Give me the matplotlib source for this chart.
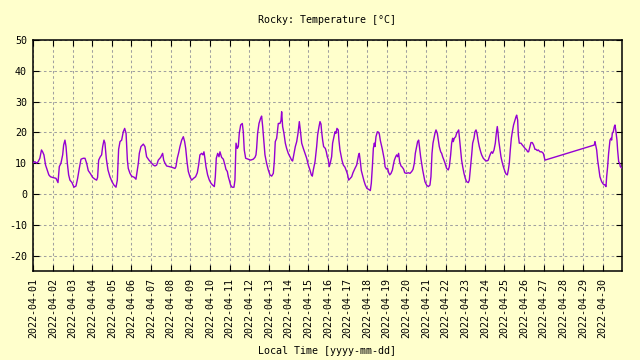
import matplotlib
matplotlib.use('Agg')
import matplotlib.pyplot as plt
import pandas as pd

plt.rcParams['axes.unicode_minus'] = False
plt.rcParams['font.family'] = ['DejaVu Sans Mono', 'DejaVu Sans']

title = 'Rocky: Temperature [°C]'
xlabel = 'Local Time [yyyy-mm-dd]'
start = '2022-04-01 00:00'

# hours since start, temperatures in °C
hours = [
    0, 2, 4, 6, 8, 10, 11.4, 13, 15, 17, 19, 21, 24.5, 27.7, 30.2,
    31.8, 33.8, 35.9, 37.1, 38.7, 40, 41.6, 43.2, 44.8, 47.3,
    49.7, 52.2, 54.2, 56.2, 58.3, 61.1, 63.2, 65.2, 67.2, 70.1,
    72.5, 75.4, 77.4, 78.6, 79.9, 81.9, 83.5, 84.8, 86.4, 87.6,
    89.2, 91.3, 93.7, 96.2, 98.6, 101.1, 102.7, 104.3, 106, 108,
    110, 111.7, 113.4, 115,
    116.1, 118.2, 120.2, 123.5, 125.5, 127.1, 128.4, 129.6, 131.6, 134.5,
    136.5, 138.5, 141.4, 144.7, 146.7, 148.7, 150.8, 152.8, 155.7, 158.1,
    159.4, 161, 163, 165.9, 169.1, 173.2, 174.4, 176, 177.7, 179.3,
    181.4, 183.4, 185, 186.3, 187.9, 189.5, 191.5, 193.6, 196, 198.4,
    200.5, 202.1, 203.7, 205.8, 207.4, 208.6, 209.8, 211.1, 213.1, 215.2,
    217.2, 219.2, 221.3, 222.5, 223.7, 225.4, 227, 228.2,
    230.2, 232.3, 234.3, 235.5, 237.2, 238.4, 239.6, 241.2, 242.9, 245.3,
    246.5, 247.8, 249.4, 250.6, 251.8, 253.5, 255.5, 256.7, 257.9, 259.6,
    262.8, 265.7, 268.9, 271, 272.2, 273, 274.2, 275.9, 277.9, 279.1,
    280.4, 282, 283.2, 285.2, 287.3, 289.3, 291.4, 293.4, 294.6, 295.8,
    297.5, 299.5, 301.5, 302.8, 303.6, 304.8, 306.4, 308.1, 309.7, 311.7,
    313.8, 315.8, 317, 318.7, 320.3, 322, 323.6, 325.2, 326.4, 328.1,
    330.1, 332.2, 334.2, 336.2, 338.2, 339.9, 341.1, 342.3, 344.4, 346.4,
    347.6, 349.3, 350.5,
    351.7, 352.5, 353.7, 354.9, 357, 358.2, 359.4, 360.5, 361.8, 363,
    364.7, 365.9, 367.6, 368.8, 370, 371.2, 372.8, 373.6, 374.9, 376.1,
    377.3, 379, 381, 383, 384.3, 385.5, 387.5, 389.2, 390.8, 393.2,
    395.3, 396.5, 397.7, 398.5, 399.8, 401, 402.7, 404.3, 405.9, 407.9,
    410, 412, 413.2, 414.5, 415.7, 416.9, 417.7, 418.9, 420.6, 421.8,
    423, 424.3, 425.5, 426.7, 428, 429.2, 430, 431.7, 433.2, 434.5,
    435.7, 437.3, 439, 440.1, 441.4, 443, 444.2, 445.4, 446.6, 447.8,
    449.5, 451.1, 452.8, 454, 456, 458.5, 460.5, 462.6, 464.2, 465.8,
    467.0, 468.6, 469.8, 471.1, 472.3, 473.5, 474.7, 476.0, 477.6, 478.8,
    480.8, 482.9, 484.9, 486.1, 487.4, 488.6, 489.8, 491.0, 492.3, 493.9,
    495.1, 496.3, 498, 499.2, 500.4, 502, 503.3, 505.3, 507.3, 508.6,
    510.2, 511.4, 512.6, 513.4, 514.7, 516.3, 517.5, 518.7, 520, 520.8,
    522.4, 523.6, 524.9, 526.5, 528.1, 529.7, 531.8, 533, 534.6, 535.9,
    537.1, 538.7, 539.9, 541.2, 542.4, 544, 545.2, 546.9, 548.1, 550.1,
    552.2, 554.2, 556.2, 557.5, 559.1, 560.3, 561.5, 563.2, 564.8, 566,
    567.2, 568, 568.9, 570.5, 571.7, 573, 574.6, 576.2, 577.8, 579.5,
    580.7, 581.9, 583.1, 584.4, 585.6, 587.1, 588.8, 590.1, 590.9, 592.1,
    592.9, 594.1, 596.2, 597.8, 599.4, 601.1, 603.1, 604.3, 605.5, 607.2,
    608.4, 610, 611.6, 613.3, 614.5, 616.1, 617.3, 619.4, 621.4, 623.5,
    625.5, 685.8, 686.6, 687.4, 688.7, 689.9, 691.5, 692.7, 694.8, 696.8,
    698.9, 700.1, 700.9, 702.1, 703.3, 704.2, 705, 706.2, 707, 707.8,
    709, 710.3, 711.1, 712.3, 713.5, 714.3, 715.6, 716.8, 717.6, 719.3,
]
temps = [
    10.2, 10.5, 10, 10.5, 11.6, 14.3, 13.7, 12.7, 9.4, 7.8, 6.2, 5.6, 5.3, 5.1, 3.7,
    8.9, 10, 12.7, 15.9, 17.5, 15.4, 10, 6.2, 4.5, 3.7,
    2.2, 2.6, 5.1, 8.3, 11.3, 11.6, 11.6, 10, 7.6, 6.5,
    5.4, 4.8, 4.5, 5.4, 11, 12.1, 12.7, 15.4, 17.5, 16.5,
    11.6, 7.8, 5.6, 4, 2.9, 2.2, 4.5, 14.5, 17, 17.5,
    20.2, 21.3, 19.7, 11,
    8.3, 6.7, 5.8, 5.4, 4.8, 7.8, 10, 13.2, 15.4, 16.2,
    15.4, 12.1, 11, 10, 9.4, 9.1, 9.4, 11, 11.9, 13.2,
    11, 10, 9.1, 8.9, 8.7, 8.3, 8.9, 11.6, 13.4, 15.4,
    17.5, 18.6, 17, 14.8, 10.5, 7.3, 5.6, 4.5, 5.1, 5.6,
    6.9, 9.4, 12.7, 13.2, 12.7, 13.7, 11.6, 8.9, 6.2, 4.5,
    3.5, 2.9, 2.4, 5.6, 11.6, 13.2, 12.1, 13.7,
    11.9, 11.3, 9.4, 8, 7.3, 5.6, 4.5, 2.9, 2.2, 2.2,
    4.5, 16.5, 14.8, 15.4, 19.7, 22.4, 22.9, 20.2, 14.3, 11.6,
    11.3, 11, 11.3, 11.9, 12.7, 14.8, 19.7, 22.9, 24.6, 25.3,
    21.9, 16.5, 12.7, 10, 7.8, 6.2, 5.8, 6.7, 10.5, 17,
    18.1, 22.9, 22.9, 23.8, 26.7, 21.9, 19.7, 16.5, 14.8, 13.2,
    12.1, 11, 10.7, 13.2, 15.4, 17, 19.7, 23.5, 20.8, 16.5,
    14.8, 13.2, 11.6, 9.4, 7.8, 6.2, 5.8, 7.8, 10.5, 15.4,
    19.2, 21.9, 23.5,
    22.7, 20.2, 17.5, 15.4, 14.8, 13.7, 12.1, 11.3, 8.9, 10,
    12.1, 16.5, 18.6, 20.2, 19.7, 21.3, 20.8, 17.5, 14.3, 12.7,
    11, 9.4, 8.7, 7.3, 6.2, 4.5, 5.1, 5.6, 6.9, 8.3,
    9.4, 11, 12.7, 13.2, 10.5, 7.6, 5.8, 4.2, 2.9, 1.8,
    1.5, 1.1, 3.5, 8.9, 14.8, 16.5, 15.4, 18.6, 20.2, 20.1,
    19.5, 17.3, 15.9, 14.5, 12.7, 11, 8.9, 8.1, 8.3, 6.9,
    6.2, 6.7, 7.8, 9.4, 11, 12.1, 12.7, 12.1, 13.2, 10.5,
    9.1, 8.7, 8, 6.9, 6.7, 6.9, 6.7, 7.3, 8, 10,
    13.2, 15.4, 17, 17.5, 14.8, 12.1, 10, 7.8, 5.6, 4,
    2.9, 2.4, 2.9, 5.6, 13.2, 16.5, 18.1, 19.7, 20.8, 19.7,
    17.5, 15.4, 13.7, 13.2, 12.1, 11, 10, 8.3, 7.8, 8.9,
    12.7, 16.5, 18.1, 17, 18.1, 18.6, 19.7, 20.2, 20.8, 18.6,
    14.3, 11, 8.9, 6.7, 5.1, 4, 3.7, 4.5, 8.9, 12.7,
    16.5, 18.1, 20.2, 20.8, 19.7, 17, 15.4, 13.7, 12.7, 11.6,
    11, 10.7, 11, 12.1, 13.2, 13.7, 13.2, 14.3, 16.5, 19.7,
    21.9, 20.2, 17.5, 14.3, 12.1, 10.5, 8.9, 7.6, 6.5, 6.2,
    7.8, 10, 14.3, 18.1, 20.2, 22.4, 24, 25.1, 25.6, 24,
    19.2, 16.5, 16.5, 15.9, 15.4, 14.8, 14.3, 13.7, 13.7, 15.4,
    16.7, 16.7, 15.9, 14.5, 14.5, 14.1, 14.3, 13.7, 13.7, 13.2,
    11, 15.9, 17, 15.9, 14.3, 11, 7.8, 5.6, 4, 3.2,
    2.9, 2.4, 5.6, 8.9, 13.2, 15.4, 17.5, 18.1, 17.5, 19.7,
    20.2, 21.9, 22.4, 20.2, 17.5, 14.3, 10.5, 10, 8.9, 8.5,
]
assert len(hours) == len(temps), (len(hours), len(temps))

y_ticks = [-20, -10, 0, 10, 20, 30, 40, 50]
y_range = (-25, 50)
day_ticks = pd.date_range('2022-04-01', '2022-04-30', freq='D')
day_labels = [d.strftime('%Y-%m-%d') for d in day_ticks]

bg = '#ffffcc'
line_color = '#9400d3'

times = pd.Timestamp(start) + pd.to_timedelta(hours, unit='h')

W, H = 640, 360
fig = plt.figure(figsize=(W / 100, H / 100), dpi=100, facecolor=bg)
L, R, T, B = 33.3, 621.7, 40, 271
ax = fig.add_axes([L / W, 1 - B / H, (R - L) / W, (B - T) / H])
ax.set_facecolor(bg)

ax.plot(times, temps, color=line_color, lw=1.0, zorder=3)
ax.set_xlim(times[0], times[-1])
ax.set_ylim(*y_range)
ax.set_yticks(y_ticks)
ax.set_xticks(day_ticks)
ax.set_xticklabels(day_labels, rotation=90, va='top', ha='center')

ax.grid(True, color='#a0a0a0', linestyle=(0, (2.5, 2.5)), lw=0.75, zorder=1)
ax.tick_params(direction='in', length=4, width=0.8, top=True, right=True,
               labelsize=7.2, colors='black')
ax.tick_params(axis='y', pad=4.5)
ax.tick_params(axis='x', pad=5)
for s in ax.spines.values():
    s.set_linewidth(1.1)
    s.set_color('black')

fig.text((L + R) / 2 / W, 1 - 20 / H, title, ha='center', va='center', fontsize=7.2)
fig.text((L + R) / 2 / W, 1 - 351 / H, xlabel, ha='center', va='center', fontsize=7.2)

fig.savefig('out.png', dpi=100, facecolor=bg)
